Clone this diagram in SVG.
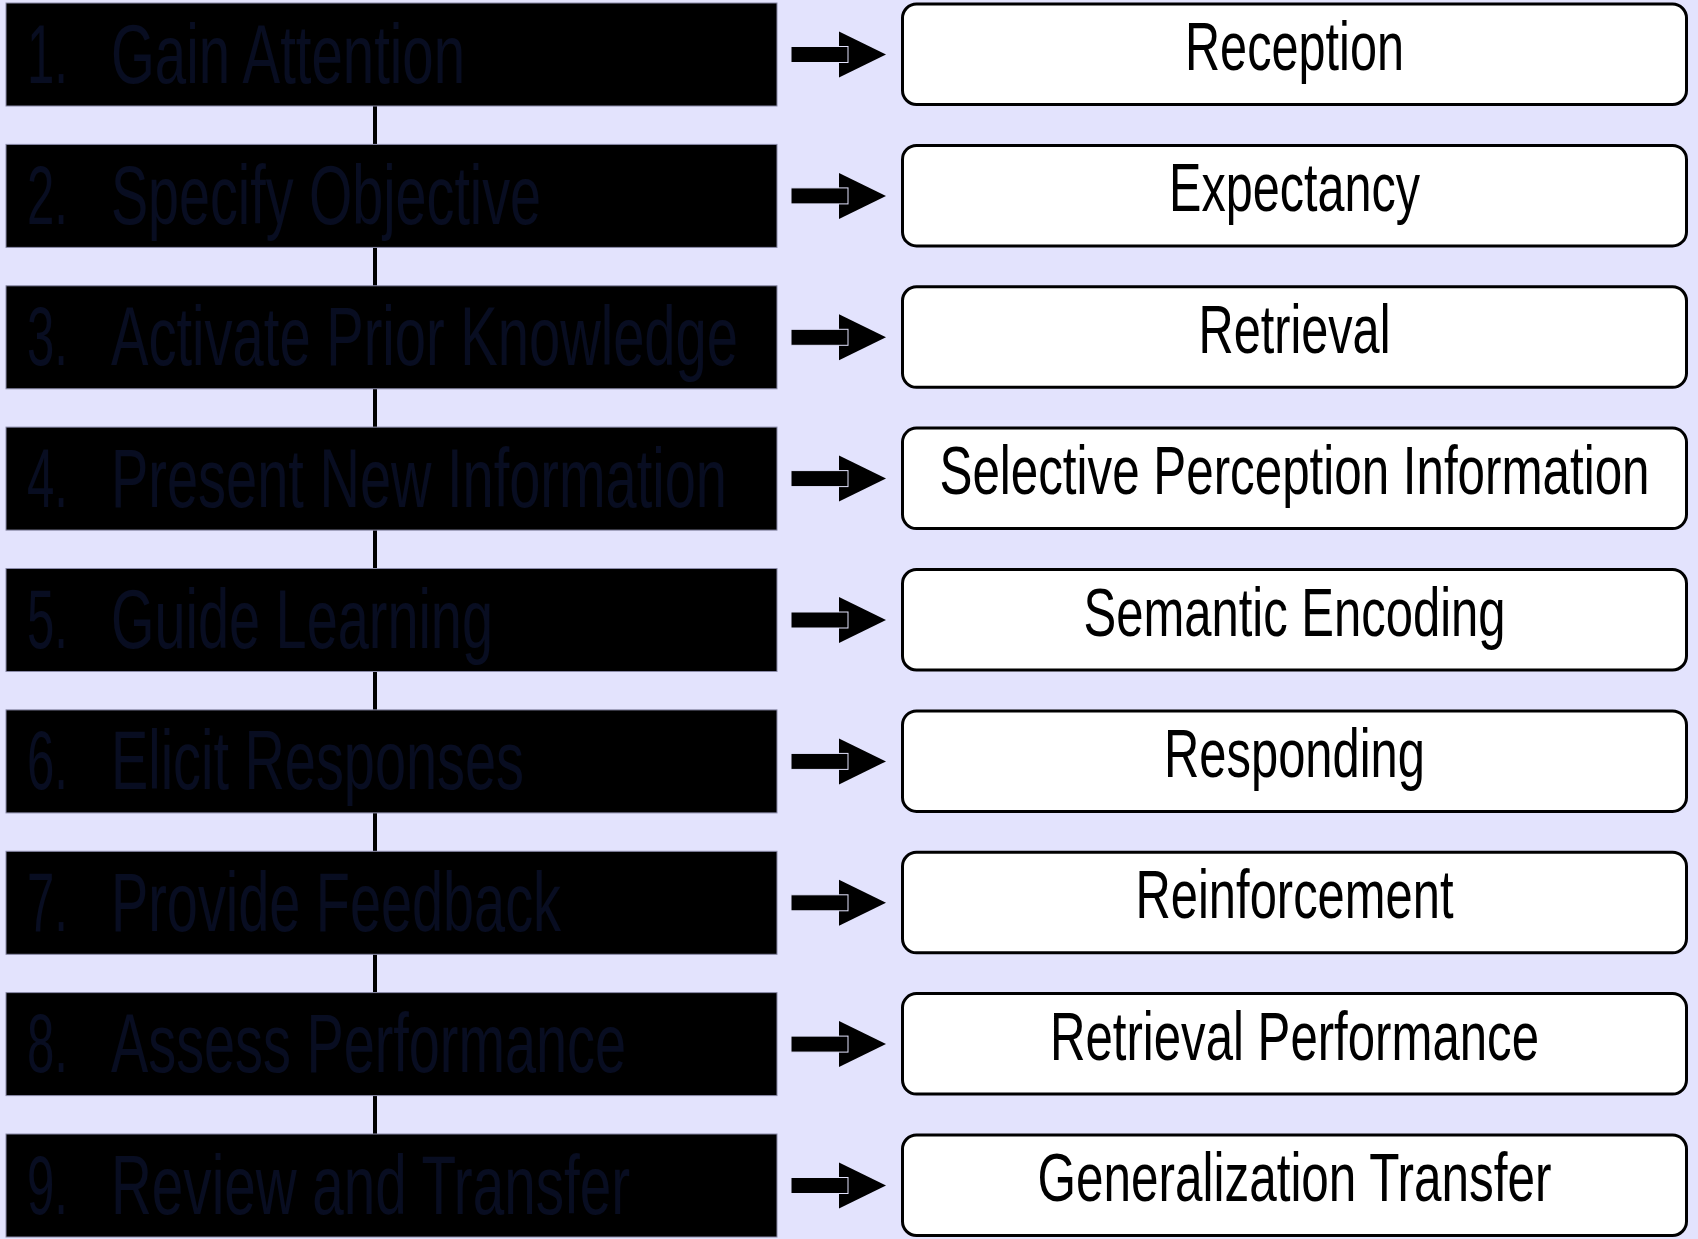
<svg xmlns="http://www.w3.org/2000/svg" xmlns:xlink="http://www.w3.org/1999/xlink" width="1698" height="1239" viewBox="0 0 1698 1239">
<style>
.step{fill:#000000;stroke:#8a8aa8;stroke-width:1}
.stext{font-family:"Liberation Sans Narrow","Arial Narrow","Liberation Sans",Arial,sans-serif;font-size:84px;fill:#080d21}
.res{fill:#ffffff;stroke:#000000;stroke-width:3}
.rtext{font-family:"Liberation Sans Narrow","Arial Narrow","Liberation Sans",Arial,sans-serif;font-size:68px;fill:#000000;text-anchor:middle}
.link{stroke:#000000;stroke-width:4}
</style>
<defs>
<g id="arrow">
<polygon points="839,-23 886,0 839,23" fill="#000000"/>
<rect x="791" y="-8" width="57" height="16" fill="#000000" stroke="#e3e3fd" stroke-width="1"/>
</g>
</defs>
<rect x="0" y="0" width="1698" height="1239" fill="#e3e3fd"/>

<g id="connectors">
<line class="link" x1="375" y1="106" x2="375" y2="144.4"/>
<line class="link" x1="375" y1="247.4" x2="375" y2="285.8"/>
<line class="link" x1="375" y1="388.8" x2="375" y2="427.1"/>
<line class="link" x1="375" y1="530.1" x2="375" y2="568.5"/>
<line class="link" x1="375" y1="671.5" x2="375" y2="709.9"/>
<line class="link" x1="375" y1="812.9" x2="375" y2="851.3"/>
<line class="link" x1="375" y1="954.3" x2="375" y2="992.6"/>
<line class="link" x1="375" y1="1095.6" x2="375" y2="1134"/>
<use xlink:href="#arrow" href="#arrow" y="54.5"/>
<use xlink:href="#arrow" href="#arrow" y="195.9"/>
<use xlink:href="#arrow" href="#arrow" y="337.3"/>
<use xlink:href="#arrow" href="#arrow" y="478.6"/>
<use xlink:href="#arrow" href="#arrow" y="620"/>
<use xlink:href="#arrow" href="#arrow" y="761.4"/>
<use xlink:href="#arrow" href="#arrow" y="902.8"/>
<use xlink:href="#arrow" href="#arrow" y="1044.1"/>
<use xlink:href="#arrow" href="#arrow" y="1185.5"/>
</g>

<g id="step1"><rect class="step" x="6" y="3" width="771" height="103"/>
<text class="stext" y="82.5"><tspan x="27" textLength="41" lengthAdjust="spacingAndGlyphs">1.</tspan> <tspan x="111" textLength="354" lengthAdjust="spacingAndGlyphs">Gain Attention</tspan></text></g>
<g id="step2"><rect class="step" x="6" y="144.4" width="771" height="103"/>
<text class="stext" y="223.9"><tspan x="27" textLength="41" lengthAdjust="spacingAndGlyphs">2.</tspan> <tspan x="111" textLength="430" lengthAdjust="spacingAndGlyphs">Specify Objective</tspan></text></g>
<g id="step3"><rect class="step" x="6" y="285.8" width="771" height="103"/>
<text class="stext" y="365.3"><tspan x="27" textLength="41" lengthAdjust="spacingAndGlyphs">3.</tspan> <tspan x="111" textLength="627" lengthAdjust="spacingAndGlyphs">Activate Prior Knowledge</tspan></text></g>
<g id="step4"><rect class="step" x="6" y="427.1" width="771" height="103"/>
<text class="stext" y="506.6"><tspan x="27" textLength="41" lengthAdjust="spacingAndGlyphs">4.</tspan> <tspan x="111" textLength="616" lengthAdjust="spacingAndGlyphs">Present New Information</tspan></text></g>
<g id="step5"><rect class="step" x="6" y="568.5" width="771" height="103"/>
<text class="stext" y="648"><tspan x="27" textLength="41" lengthAdjust="spacingAndGlyphs">5.</tspan> <tspan x="111" textLength="382" lengthAdjust="spacingAndGlyphs">Guide Learning</tspan></text></g>
<g id="step6"><rect class="step" x="6" y="709.9" width="771" height="103"/>
<text class="stext" y="789.4"><tspan x="27" textLength="41" lengthAdjust="spacingAndGlyphs">6.</tspan> <tspan x="111" textLength="413" lengthAdjust="spacingAndGlyphs">Elicit Responses</tspan></text></g>
<g id="step7"><rect class="step" x="6" y="851.3" width="771" height="103"/>
<text class="stext" y="930.8"><tspan x="27" textLength="41" lengthAdjust="spacingAndGlyphs">7.</tspan> <tspan x="111" textLength="450" lengthAdjust="spacingAndGlyphs">Provide Feedback</tspan></text></g>
<g id="step8"><rect class="step" x="6" y="992.6" width="771" height="103"/>
<text class="stext" y="1072.1"><tspan x="27" textLength="41" lengthAdjust="spacingAndGlyphs">8.</tspan> <tspan x="111" textLength="515" lengthAdjust="spacingAndGlyphs">Assess Performance</tspan></text></g>
<g id="step9"><rect class="step" x="6" y="1134" width="771" height="103"/>
<text class="stext" y="1213.5"><tspan x="27" textLength="41" lengthAdjust="spacingAndGlyphs">9.</tspan> <tspan x="111" textLength="519" lengthAdjust="spacingAndGlyphs">Review and Transfer</tspan></text></g>

<g id="result1"><rect class="res" x="902.5" y="4" width="784" height="100.5" rx="14"/>
<text class="rtext" x="1294.5" y="70" textLength="219" lengthAdjust="spacingAndGlyphs">Reception</text></g>
<g id="result2"><rect class="res" x="902.5" y="145.4" width="784" height="100.5" rx="14"/>
<text class="rtext" x="1294.5" y="211.4" textLength="251" lengthAdjust="spacingAndGlyphs">Expectancy</text></g>
<g id="result3"><rect class="res" x="902.5" y="286.8" width="784" height="100.5" rx="14"/>
<text class="rtext" x="1294.5" y="352.8" textLength="192" lengthAdjust="spacingAndGlyphs">Retrieval</text></g>
<g id="result4"><rect class="res" x="902.5" y="428.1" width="784" height="100.5" rx="14"/>
<text class="rtext" x="1294.5" y="494.1" textLength="710" lengthAdjust="spacingAndGlyphs">Selective Perception Information</text></g>
<g id="result5"><rect class="res" x="902.5" y="569.5" width="784" height="100.5" rx="14"/>
<text class="rtext" x="1294.5" y="635.5" textLength="422" lengthAdjust="spacingAndGlyphs">Semantic Encoding</text></g>
<g id="result6"><rect class="res" x="902.5" y="710.9" width="784" height="100.5" rx="14"/>
<text class="rtext" x="1294.5" y="776.9" textLength="261" lengthAdjust="spacingAndGlyphs">Responding</text></g>
<g id="result7"><rect class="res" x="902.5" y="852.3" width="784" height="100.5" rx="14"/>
<text class="rtext" x="1294.5" y="918.3" textLength="318" lengthAdjust="spacingAndGlyphs">Reinforcement</text></g>
<g id="result8"><rect class="res" x="902.5" y="993.6" width="784" height="100.5" rx="14"/>
<text class="rtext" x="1294.5" y="1059.6" textLength="489" lengthAdjust="spacingAndGlyphs">Retrieval Performance</text></g>
<g id="result9"><rect class="res" x="902.5" y="1135" width="784" height="100.5" rx="14"/>
<text class="rtext" x="1294.5" y="1201" textLength="514" lengthAdjust="spacingAndGlyphs">Generalization Transfer</text></g>
</svg>
